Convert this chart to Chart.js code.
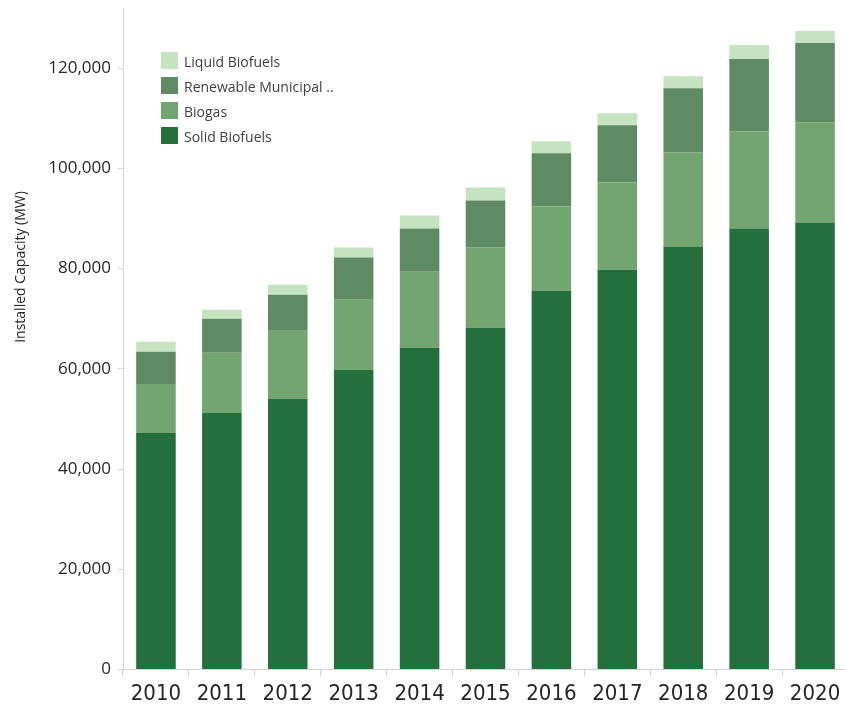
<!DOCTYPE html>
<html>
<head>
<meta charset="utf-8">
<script src="https://cdn.jsdelivr.net/npm/chart.js@4/dist/chart.umd.min.js"></script>
<style>
    html, body { margin: 0; padding: 0; background: #fff; overflow: hidden; }
    #wrap { position: relative; width: 852px; height: 711px; }
</style>
</head>
<body>
<div id="wrap"><canvas id="chart"></canvas></div>
<script>
// Installed capacity (MW) by year
const years = ['2010', '2011', '2012', '2013', '2014', '2015', '2016', '2017', '2018', '2019', '2020'];
const solidBiofuels = [47200, 51200, 54000, 59800, 64200, 68200, 75600, 79800, 84400, 88000, 89200];
const biogas = [9800, 12000, 13600, 14000, 15200, 16000, 16800, 17400, 18800, 19400, 20000];
const renewableMunicipal = [6400, 6800, 7200, 8400, 8600, 9400, 10600, 11400, 12800, 14400, 15800];
const liquidBiofuels = [2000, 1800, 2000, 2000, 2600, 2600, 2400, 2400, 2400, 2800, 2400];
const yTicks = [0, 20000, 40000, 60000, 80000, 100000, 120000];

const axisColor = '#d4d4d4';
const textColor = '#262626';
const fontFamily = "'DejaVu Sans Condensed', 'Open Sans', sans-serif";

// legend drawn inside the plot area, top-left
const innerLegend = {
    id: 'innerLegend',
    afterDraw: function(chart) {
        const ctx = chart.ctx;
        const items = chart.data.datasets.slice().reverse();
        ctx.save();
        ctx.font = "14px 'Open Sans', sans-serif";
        ctx.textBaseline = 'middle';
        items.forEach(function(ds, i) {
            const top = 52 + i * 25;
            ctx.fillStyle = ds.backgroundColor;
            ctx.fillRect(161, top, 17, 17);
            ctx.fillStyle = '#404040';
            ctx.fillText(ds.legendText || ds.label, 184, top + 11);
        });
        ctx.restore();
    }
};

// y axis title, placed a bit above the plot centre like the original
const yTitle = {
    id: 'yTitle',
    afterDraw: function(chart) {
        const ctx = chart.ctx;
        ctx.save();
        ctx.translate(21, 267);
        ctx.rotate(-Math.PI / 2);
        ctx.font = "14px 'Open Sans', sans-serif";
        ctx.fillStyle = textColor;
        ctx.textAlign = 'center';
        ctx.textBaseline = 'middle';
        ctx.fillText('Installed Capacity (MW)', 0, 0);
        ctx.restore();
    }
};

const barOpts = { barPercentage: 0.6, categoryPercentage: 1.0, borderWidth: 0 };

new Chart(document.getElementById('chart'), {
    type: 'bar',
    data: {
        labels: years,
        datasets: [
            Object.assign({ label: 'Solid Biofuels', data: solidBiofuels, backgroundColor: '#23703d' }, barOpts),
            Object.assign({ label: 'Biogas', data: biogas, backgroundColor: '#72a56f' }, barOpts),
            Object.assign({ label: 'Renewable Municipal Waste', legendText: 'Renewable Municipal ..', data: renewableMunicipal, backgroundColor: '#5e8b62' }, barOpts),
            Object.assign({ label: 'Liquid Biofuels', data: liquidBiofuels, backgroundColor: '#c6e3c0' }, barOpts)
        ]
    },
    options: {
        responsive: true,
        maintainAspectRatio: false,
        animation: false,
        layout: { padding: { top: 0, right: 4, bottom: 0, left: 0 } },
        plugins: {
            legend: { display: false },
            tooltip: { enabled: false }
        },
        scales: {
            x: {
                stacked: true,
                border: { color: axisColor, width: 1 },
                grid: { display: true, drawOnChartArea: false, tickLength: 7, color: axisColor, offset: true },
                ticks: {
                    color: textColor,
                    padding: 4,
                    maxRotation: 0,
                    font: { family: fontFamily, size: 22 }
                }
            },
            y: {
                stacked: true,
                min: 0,
                max: 132000,
                border: { color: axisColor, width: 1 },
                grid: { display: true, drawOnChartArea: false, tickLength: 5, color: axisColor },
                afterBuildTicks: function(axis) {
                    axis.ticks = yTicks.map(function(v) { return { value: v }; });
                },
                afterFit: function(axis) {
                    axis.width = 123;
                    axis.paddingTop = 8;
                },
                ticks: {
                    color: textColor,
                    padding: 7,
                    font: { family: "'Open Sans', sans-serif", size: 17 },
                    callback: function(value) {
                        return value.toLocaleString('en-US');
                    }
                }
            }
        }
    },
    plugins: [innerLegend, yTitle]
});
</script>
</body>
</html>
